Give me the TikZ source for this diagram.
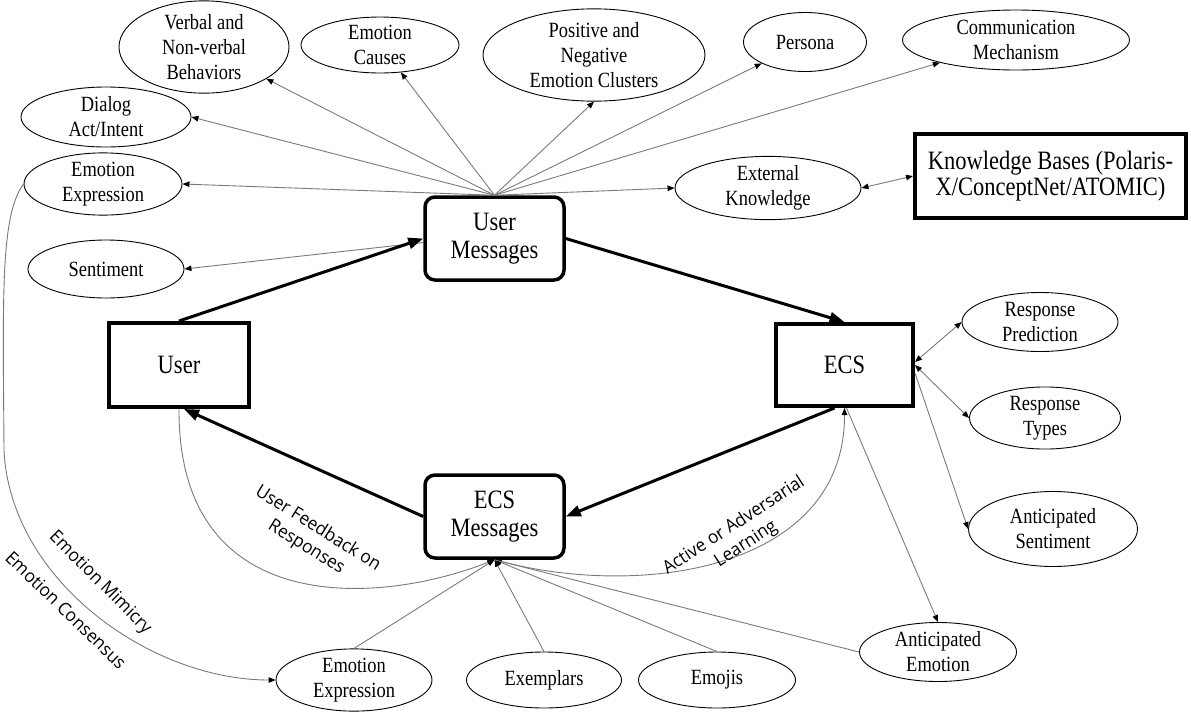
\documentclass[tikz,border=0pt]{standalone}
\usepackage{fontspec}
\setmainfont{Liberation Serif}[FakeStretch=0.85]
\newfontfamily\lblfont{Open Sans}[FakeStretch=0.96]
\usetikzlibrary{arrows.meta,shapes.geometric}
\begin{document}
\begin{tikzpicture}[x=1pt,y=-1pt,
  ell/.style={draw, ellipse, line width=0.9pt, inner sep=0pt, align=center, font=\fontsize{21.7}{25}\selectfont},
  bigbox/.style={draw, line width=4pt, inner sep=0pt, align=center, font=\fontsize{26.5}{28}\selectfont},
  rbox/.style={bigbox, line width=3.5pt, rounded corners=10pt},
  conn/.style={draw=black!52, line width=0.9pt, -{Triangle[length=7pt,width=5.5pt,color=black]}},
  bconn/.style={conn, {Triangle[length=7pt,width=5.5pt,color=black]}-{Triangle[length=7pt,width=5.5pt,color=black]}},
  mainarrow/.style={line width=3pt, -{Triangle[length=15pt,width=11pt]}},
  lbl/.style={font=\lblfont\fontsize{18}{22}\selectfont, align=center, inner sep=0pt}
]
\useasboundingbox (0,0) rectangle (1191,713);
% main boxes
\node[rbox, minimum width=139pt, minimum height=83pt] (um) at (494.5,238.5) {User\\Messages};
\node[rbox, minimum width=139pt, minimum height=83pt] (ecsm) at (494.5,516.5) {ECS\\Messages};
\node[bigbox, minimum width=140pt, minimum height=84pt] (user) at (179,365) {User};
\node[bigbox, minimum width=137pt, minimum height=82pt] (ecs) at (844.5,365) {ECS};
\node[bigbox, minimum width=271pt, minimum height=84pt, font=\fontsize{26.5}{26}\selectfont] (kb) at (1050.5,176) {Knowledge Bases (Polaris-\\X/ConceptNet/ATOMIC)};
% top ellipses
\node[ell, minimum width=170pt, minimum height=86pt] (vb) at (204,47) {Verbal and\\Non-verbal\\Behaviors};
\node[ell, minimum width=158pt, minimum height=54pt] (ec) at (380,45) {Emotion\\Causes};
\node[ell, minimum width=222pt, minimum height=86pt] (pn) at (594,55) {Positive and\\Negative\\Emotion Clusters};
\node[ell, minimum width=123pt, minimum height=59pt] (pe) at (805,42) {Persona};
\node[ell, minimum width=227pt, minimum height=60pt] (cm) at (1016,40) {Communication\\Mechanism};
\node[ell, minimum width=170pt, minimum height=60pt] (da) at (106,117) {Dialog\\Act/Intent};
\node[ell, minimum width=158pt, minimum height=56pt] (ee1) at (103,184) {Emotion\\Expression};
\node[ell, minimum width=156pt, minimum height=58pt] (se) at (106,269) {Sentiment};
\node[ell, minimum width=186pt, minimum height=62pt] (ek) at (768,188) {External\\Knowledge};
% right ellipses
\node[ell, minimum width=156pt, minimum height=59pt] (rp) at (1040,322) {Response\\Prediction};
\node[ell, minimum width=151pt, minimum height=58pt] (rt) at (1045,418) {Response\\Types};
\node[ell, minimum width=169pt, minimum height=75pt] (as) at (1053,529) {Anticipated\\Sentiment};
\node[ell, minimum width=157pt, minimum height=59pt] (ae) at (938,652) {Anticipated\\Emotion};
% bottom ellipses
\node[ell, minimum width=156pt, minimum height=56pt] (ee2) at (354,680) {Emotion\\Expression};
\node[ell, minimum width=155pt, minimum height=56pt] (ex) at (544,680) {Exemplars};
\node[ell, minimum width=157pt, minimum height=56pt] (em) at (717,680) {Emojis};
% hub
\coordinate (hub) at (um.north);
\draw[conn] (hub) -- (vb);
\draw[conn] (hub) -- (ec);
\draw[conn] (hub) -- (pn.south);
\draw[conn] (hub) -- (pe);
\draw[conn] (hub) -- (cm);
\draw[conn] (hub) -- (da.east);
\draw[conn] (hub) -- (ee1.east);
\draw[conn] (hub) -- (ek.west);
\draw[conn] ([yshift=-4pt]um.west) -- (se.east);
\draw[bconn] (ek.east) -- (kb.west);
% main cycle
\draw[mainarrow] (user.north) -- (um.west);
\draw[mainarrow] (um.east) -- (ecs.north);
\draw[mainarrow] ([xshift=-10pt]ecs.south) -- (ecsm.east);
\draw[mainarrow] (ecsm.west) -- ([xshift=5pt]user.south);
% ECS side
\draw[bconn] ([yshift=3pt]ecs.east) -- (rp.west);
\draw[bconn] (ecs.east) -- (rt.west);
\draw[conn] ([yshift=-8pt]ecs.east) -- (as.west);
\draw[conn] ([xshift=2pt]ecs.south) -- (ae.north);
% ECS messages bottom
\draw[conn] (ee2.north) -- (ecsm.south);
\draw[conn] (ex.north) -- (ecsm.south);
\draw[conn] (em.north) -- (ecsm.south);
\draw[conn] (ae.west) -- (ecsm.south);
\draw[conn] (user.south) .. controls (178,620) and (380,605) .. (ecsm.south);
\draw[conn] (ecsm.south) .. controls (640,600) and (845,570) .. (ecs.south);
\draw[conn] (ee1.west) .. controls (0,215) and (3,300) .. (4,450) .. controls (10,580) and (150,680) .. (ee2.west);
% labels
\node[lbl, rotate=-32] (lfb) at (312,538) {User Feedback on\\Responses};
\node[lbl, rotate=33] (lal) at (740,535) {Active or Adversarial\\Learning};
\node[lbl, rotate=-45] (lmi) at (100,583) {Emotion Mimicry};
\node[lbl, rotate=-44] (lco) at (66,610) {Emotion Consensus};
\end{tikzpicture}
\end{document}
